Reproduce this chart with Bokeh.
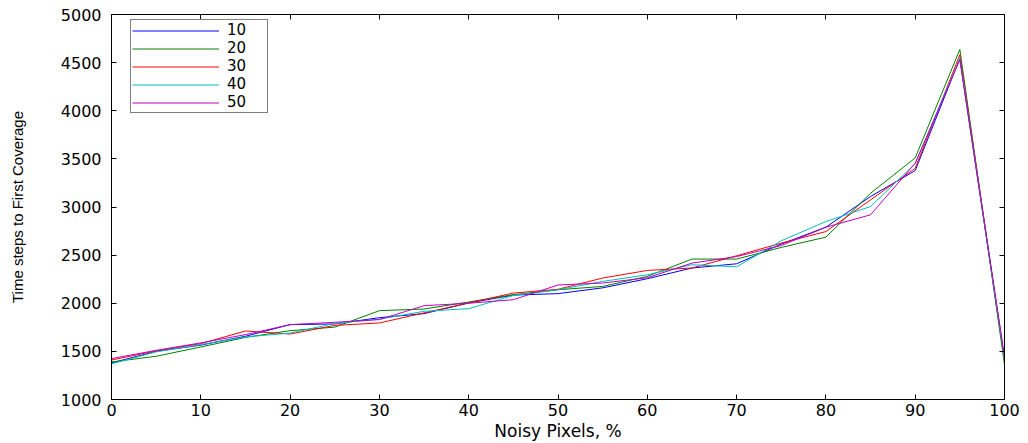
from bokeh.plotting import figure
from bokeh.models import Range1d, FixedTicker, LinearAxis, Legend, LegendItem
from bokeh.embed import file_html
from bokeh.resources import INLINE

x = [0, 5, 10, 15, 20, 25, 30, 35, 40, 45, 50, 55, 60, 65, 70, 75, 80, 85, 90, 95, 100]
s10 = [1380, 1500, 1565, 1657, 1778, 1785, 1850, 1892, 2003, 2085, 2100, 2160, 2255, 2366, 2410, 2615, 2790, 3109, 3378, 4543, 1415]
s20 = [1390, 1449, 1546, 1645, 1715, 1752, 1923, 1940, 2013, 2089, 2140, 2175, 2279, 2459, 2459, 2580, 2687, 3143, 3510, 4637, 1363]
s30 = [1410, 1505, 1580, 1712, 1680, 1770, 1795, 1900, 2003, 2106, 2145, 2262, 2341, 2366, 2493, 2625, 2745, 3074, 3402, 4582, 1420]
s40 = [1370, 1495, 1570, 1650, 1690, 1790, 1835, 1916, 1944, 2080, 2140, 2227, 2296, 2400, 2379, 2649, 2849, 3005, 3450, 4543, 1420]
s50 = [1425, 1511, 1588, 1674, 1778, 1802, 1830, 1975, 2000, 2037, 2190, 2210, 2265, 2417, 2485, 2600, 2790, 2919, 3454, 4530, 1449]
series_names = ["10", "20", "30", "40", "50"]
series_vals = [s10, s20, s30, s40, s50]
colors = ["#0000ff", "#008000", "#ff0000", "#00bfbf", "#bf00bf"]
x_ticks = [0, 10, 20, 30, 40, 50, 60, 70, 80, 90, 100]
y_ticks = [1000, 1500, 2000, 2500, 3000, 3500, 4000, 4500, 5000]

FONT = "DejaVu Sans"

p = figure(width=1020, height=443, output_backend="svg", toolbar_location=None,
           x_range=Range1d(0, 100), y_range=Range1d(1000, 5000),
           min_border_left=111, min_border_right=16, min_border_top=14, min_border_bottom=43)
p.xgrid.visible = False
p.ygrid.visible = False
p.outline_line_color = "black"
p.outline_line_width = 1
p.background_fill_color = "white"
p.border_fill_color = "white"

renderers = []
for name, vals, c in zip(series_names, series_vals, colors):
    r = p.line(x, vals, line_color=c, line_width=1)
    renderers.append(r)

def style_axis(ax, ticks, labels=True):
    ax.ticker = FixedTicker(ticks=ticks)
    ax.major_tick_in = 5
    ax.major_tick_out = 0
    ax.minor_tick_line_color = None
    ax.axis_line_color = "black"
    ax.major_tick_line_color = "black"
    ax.major_label_text_font = FONT
    ax.major_label_text_color = "black"
    if labels:
        ax.major_label_text_font_size = "16px"
    else:
        ax.major_label_text_font_size = "0px"
        ax.major_label_standoff = 0

style_axis(p.xaxis[0], x_ticks)
style_axis(p.yaxis[0], y_ticks)
p.xaxis[0].major_label_standoff = 4
p.yaxis[0].major_label_standoff = 10
p.xaxis[0].axis_label = "Noisy Pixels, %"
p.xaxis[0].axis_label_text_font = FONT
p.xaxis[0].axis_label_text_font_size = "17px"
p.xaxis[0].axis_label_text_font_style = "normal"
p.xaxis[0].axis_label_text_color = "black"
p.xaxis[0].axis_label_standoff = 2
p.yaxis[0].axis_label = "Time steps to First Coverage"
p.yaxis[0].axis_label_text_font = "Liberation Sans"
p.yaxis[0].axis_label_text_font_size = "15px"
p.yaxis[0].axis_label_text_font_style = "normal"
p.yaxis[0].axis_label_text_color = "black"
p.yaxis[0].axis_label_standoff = 32

ax_top = LinearAxis()
style_axis(ax_top, x_ticks, labels=False)
p.add_layout(ax_top, "above")
ax_right = LinearAxis()
style_axis(ax_right, y_ticks, labels=False)
p.add_layout(ax_right, "right")

legend = Legend(items=[LegendItem(label=n, renderers=[r]) for n, r in zip(series_names, renderers)],
                location=(19, 286))
legend.margin = 0
legend.padding = 1
legend.spacing = 0
legend.glyph_width = 87
legend.glyph_height = 17
legend.label_height = 17
legend.label_width = 39
legend.label_standoff = 8
legend.label_text_font = FONT
legend.label_text_font_size = "15px"
legend.label_text_color = "black"
legend.border_line_color = "black"
legend.border_line_width = 1
legend.background_fill_color = "white"
legend.background_fill_alpha = 1
p.add_layout(legend, "center")

open("out.html", "w").write(file_html(p, INLINE))
